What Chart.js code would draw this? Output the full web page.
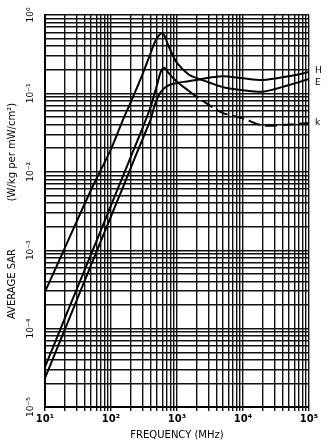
<!DOCTYPE html>
<html>
<head>
<meta charset="utf-8">
<title>Average SAR vs Frequency</title>
<script src="https://cdn.jsdelivr.net/npm/chart.js@4.4.1/dist/chart.umd.min.js"></script>
<style>
  html, body { margin: 0; padding: 0; background: #fff; }
</style>
</head>
<body>
<canvas id="sarChart" width="330" height="443"></canvas>
<script>
// frequency points (MHz) shared by the three curves
const freqMHz = [10, 20, 50, 100, 150, 200, 300, 400, 450, 500, 550, 600, 650, 700, 800, 1000, 1500, 2000, 3000, 5000, 10000, 20000, 50000, 100000];

// average SAR (W/kg per mW/cm2)
const sarE = [2.95e-4, 1.07e-3, 5.9e-3, 0.0195, 0.045, 0.078, 0.175, 0.33, 0.43, 0.51, 0.565, 0.585, 0.54, 0.46, 0.35, 0.245, 0.174, 0.156, 0.139, 0.12, 0.11, 0.105, 0.128, 0.153];
const sarK = [3.24e-5, 1.36e-4, 8.9e-4, 3.73e-3, 8.6e-3, 0.0156, 0.036, 0.068, 0.095, 0.13, 0.175, 0.205, 0.212, 0.195, 0.17, 0.141, 0.108, 0.09, 0.072, 0.056, 0.048, 0.039, 0.04, 0.042];
const sarH = [2.34e-5, 9.8e-5, 6.5e-4, 2.7e-3, 6.2e-3, 0.0113, 0.026, 0.047, 0.067, 0.086, 0.1, 0.11, 0.117, 0.123, 0.13, 0.136, 0.143, 0.149, 0.158, 0.166, 0.156, 0.148, 0.166, 0.187];

const curveNames = ['E', 'k', 'H'];
const xRange = [10, 100000];
const yRange = [1e-5, 1];
const dashFrom = 1500; // k curve is dashed beyond this frequency

const sup = { '-': '\u207B', '0': '\u2070', '1': '\u00B9', '2': '\u00B2', '3': '\u00B3', '4': '\u2074', '5': '\u2075' };

function decadeLabel(v) {
    const e = Math.log10(v);
    if (Math.abs(e - Math.round(e)) > 1e-6) return '';
    return '10' + String(Math.round(e)).split('').map(c => sup[c]).join('');
}

// grid ticks at 1..9 of every decade
function logTicks(min, max) {
    const out = [];
    for (let e = Math.round(Math.log10(min)); e < Math.round(Math.log10(max)); e++) {
        for (let k = 1; k < 10; k++) {
            out.push({ value: +(k * Math.pow(10, e)).toPrecision(4) });
        }
    }
    out.push({ value: max });
    return out;
}

function toPoints(ys) {
    return freqMHz.map((f, i) => ({ x: f, y: ys[i] }));
}

const curves = [sarE, sarK, sarH];

const datasets = curves.map((ys, i) => ({
    label: curveNames[i],
    data: toPoints(ys),
    borderColor: '#000',
    borderWidth: 2,
    pointRadius: 0,
    fill: false,
    tension: 0.3,
    segment: curveNames[i] === 'k'
        ? { borderDash: ctx => ctx.p0.parsed.x >= dashFrom ? [12, 5] : undefined }
        : undefined
}));

// curve names written just right of the plot, near each curve's last value
const endLabels = {
    id: 'endLabels',
    afterDatasetsDraw(chart) {
        const ctx = chart.ctx;
        const area = chart.chartArea;
        const yScale = chart.scales.y;
        const nudge = { H: -1, E: 4, k: 0 };
        ctx.save();
        ctx.fillStyle = '#000';
        ctx.font = '9px "DejaVu Sans"';
        ctx.textBaseline = 'middle';
        chart.data.datasets.forEach(ds => {
            const last = ds.data[ds.data.length - 1];
            ctx.fillText(ds.label, area.right + 6, yScale.getPixelForValue(last.y) + nudge[ds.label]);
        });
        ctx.restore();
    }
};

const gridStyle = { color: '#111', lineWidth: 1.4 };

new Chart(document.getElementById('sarChart'), {
    type: 'line',
    data: { datasets: datasets },
    options: {
        responsive: false,
        animation: false,
        layout: { padding: { top: 15, right: 21, left: 0, bottom: 0 } },
        plugins: {
            legend: { display: false },
            tooltip: { enabled: false }
        },
        scales: {
            x: {
                type: 'logarithmic',
                min: xRange[0],
                max: xRange[1],
                afterBuildTicks: s => { s.ticks = logTicks(xRange[0], xRange[1]); },
                afterFit: s => { s.height = 36; },
                grid: { ...gridStyle, tickLength: 4 },
                border: { color: '#000', width: 2 },
                ticks: {
                    autoSkip: false,
                    minRotation: 0,
                    maxRotation: 0,
                    padding: 2,
                    color: '#000',
                    font: { family: 'DejaVu Sans', size: 10, weight: 'bold' },
                    callback: v => decadeLabel(v)
                },
                title: {
                    display: true,
                    text: 'FREQUENCY (MHz)',
                    color: '#000',
                    font: { family: 'DejaVu Sans', size: 10 },
                    padding: { top: 0, bottom: 2 }
                }
            },
            y: {
                type: 'logarithmic',
                min: yRange[0],
                max: yRange[1],
                afterBuildTicks: s => { s.ticks = logTicks(yRange[0], yRange[1]); },
                afterFit: s => { s.width = 45; },
                grid: { ...gridStyle, drawTicks: false },
                border: { color: '#000', width: 2 },
                ticks: {
                    autoSkip: false,
                    minRotation: 90,
                    maxRotation: 90,
                    crossAlign: 'center',
                    padding: 4,
                    color: '#000',
                    font: { family: 'DejaVu Sans', size: 9 },
                    callback: v => decadeLabel(v)
                },
                title: {
                    display: true,
                    text: 'AVERAGE SAR               (W/kg per mW/cm\u00B2)',
                    color: '#000',
                    font: { family: 'DejaVu Sans', size: 10 },
                    padding: { top: 6, bottom: 0 }
                }
            }
        }
    },
    plugins: [endLabels]
});
</script>
</body>
</html>
